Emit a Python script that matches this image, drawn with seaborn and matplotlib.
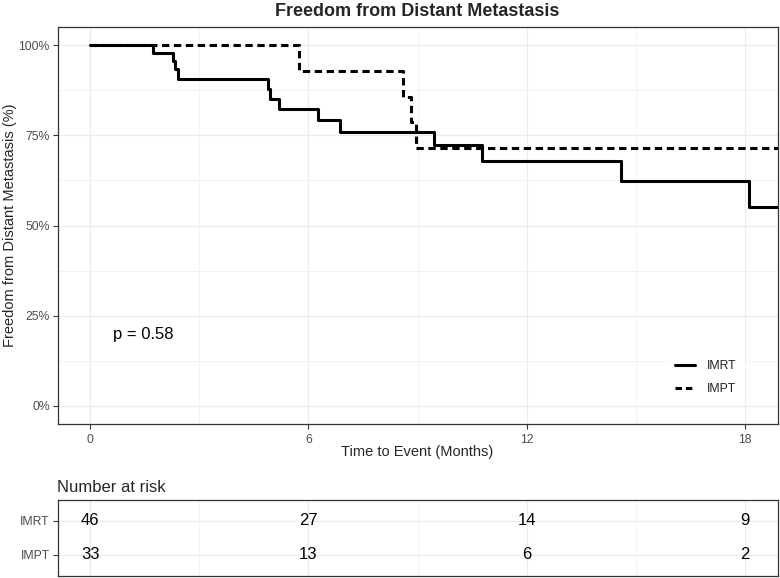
import numpy as np
import pandas as pd
import matplotlib.pyplot as plt
import seaborn as sns
from matplotlib.lines import Line2D
from matplotlib.ticker import FixedLocator, FuncFormatter

# --- DATA ---
groups = ['IMRT', 'IMPT']

imrt_time = [0, 1.73, 2.28, 2.33, 2.42, 4.88, 4.93, 5.19, 6.27, 6.87, 9.44, 10.76, 14.60, 18.12, 18.9]
imrt_surv = [1.0, 0.978, 0.956, 0.934, 0.906, 0.878, 0.851, 0.822, 0.792, 0.759, 0.723, 0.679, 0.624, 0.552, 0.552]

impt_time = [0, 5.75, 8.59, 8.82, 8.97, 18.9]
impt_surv = [1.0, 0.929, 0.857, 0.786, 0.714, 0.714]

risk_times = [0, 6, 12, 18]
imrt_risk = [46, 27, 14, 9]
impt_risk = [33, 13, 6, 2]

p_label = 'p = 0.58'

# --- STYLE ---
sns.set_theme(style="white")
plt.rcParams['font.family'] = ['Liberation Sans', 'DejaVu Sans']

GRID = '#EBEBEB'
BORDER = '#333333'
TICKTXT = '#4D4D4D'

W, H = 780, 578
fig = plt.figure(figsize=(W / 100, H / 100), dpi=100)

def px_axes(left, top, right, bottom):
    return fig.add_axes([left / W, 1 - bottom / H, (right - left) / W, (bottom - top) / H])

ax = px_axes(57.5, 27, 777.5, 424)
ax_risk = px_axes(57.5, 500, 777.5, 575.5)

curves = pd.concat([
    pd.DataFrame({'time': imrt_time, 'surv': imrt_surv, 'group': 'IMRT'}),
    pd.DataFrame({'time': impt_time, 'surv': impt_surv, 'group': 'IMPT'}),
])

dash_map = {'IMRT': '', 'IMPT': (2.4, 1.5)}
sns.lineplot(data=curves, x='time', y='surv', style='group', style_order=groups,
             dashes=dash_map, color='black', linewidth=2.2, drawstyle='steps-post',
             estimator=None, sort=False, legend=False, ax=ax, zorder=3)

xlim = (-0.9, 18.9)
ax.set_xlim(*xlim)
ax.set_ylim(-0.05, 1.05)

for a in (ax, ax_risk):
    a.xaxis.set_major_locator(FixedLocator([0, 6, 12, 18]))
    a.xaxis.set_minor_locator(FixedLocator([3, 9, 15]))
    a.grid(True, which='major', color=GRID, linewidth=0.8, zorder=0)
    a.grid(True, which='minor', color=GRID, linewidth=0.45, zorder=0)
    a.set_axisbelow(True)
    for s in a.spines.values():
        s.set_color(BORDER)
        s.set_linewidth(0.9)
    a.tick_params(which='major', bottom=True, left=True, length=3.5, width=0.8,
                  color=BORDER, labelcolor=TICKTXT, labelsize=8.8, pad=2)
    a.tick_params(which='minor', length=0)
    a.set_xlabel('')
    a.set_ylabel('')

ax.yaxis.set_major_locator(FixedLocator([0, 0.25, 0.5, 0.75, 1.0]))
ax.yaxis.set_minor_locator(FixedLocator([0.125, 0.375, 0.625, 0.875]))
ax.yaxis.set_major_formatter(FuncFormatter(lambda v, _: f'{v * 100:.0f}%'))
ax.tick_params(axis='x', pad=4)

ax.text(1.45, 0.197, p_label, fontsize=12, ha='center', va='center', color='black')

handles = [Line2D([], [], color='black', linewidth=2.2, linestyle='-'),
           Line2D([], [], color='black', linewidth=2.2, dashes=(2.1, 1.3))]
leg = ax.legend(handles, groups, loc='lower left', bbox_to_anchor=(0.848, 0.055),
                frameon=True, fontsize=8.8, handlelength=1.6, handletextpad=1.0,
                labelspacing=0.9, borderpad=0.6, borderaxespad=0)
leg.get_frame().set_facecolor('white')
leg.get_frame().set_edgecolor('white')
leg.get_frame().set_alpha(1)
for t in leg.get_texts():
    t.set_color('#222222')

# --- RISK TABLE ---
ax_risk.set_xlim(*xlim)
ax_risk.set_ylim(2.6, 0.4)
ax_risk.yaxis.set_major_locator(FixedLocator([1, 2]))
ax_risk.set_yticklabels(groups)
ax_risk.tick_params(axis='x', which='major', length=0, labelbottom=False)
for row, counts in enumerate([imrt_risk, impt_risk], start=1):
    for t, n in zip(risk_times, counts):
        ax_risk.text(t, row, str(n), fontsize=12, ha='center', va='center', color='black')

# --- TEXTS ---
fig.text(417 / W, 1 - 11 / H, 'Freedom from Distant Metastasis', fontsize=13,
         fontweight='bold', ha='center', va='center')
fig.text(417 / W, 1 - 452 / H, 'Time to Event (Months)', fontsize=10.5,
         ha='center', va='center')
fig.text(10 / W, 1 - 225 / H, 'Freedom from Distant Metastasis (%)', fontsize=10.5,
         ha='center', va='center', rotation=90)
fig.text(57 / W, 1 - 488 / H, 'Number at risk', fontsize=12, ha='left', va='center')

fig.savefig('out.png', dpi=100)
